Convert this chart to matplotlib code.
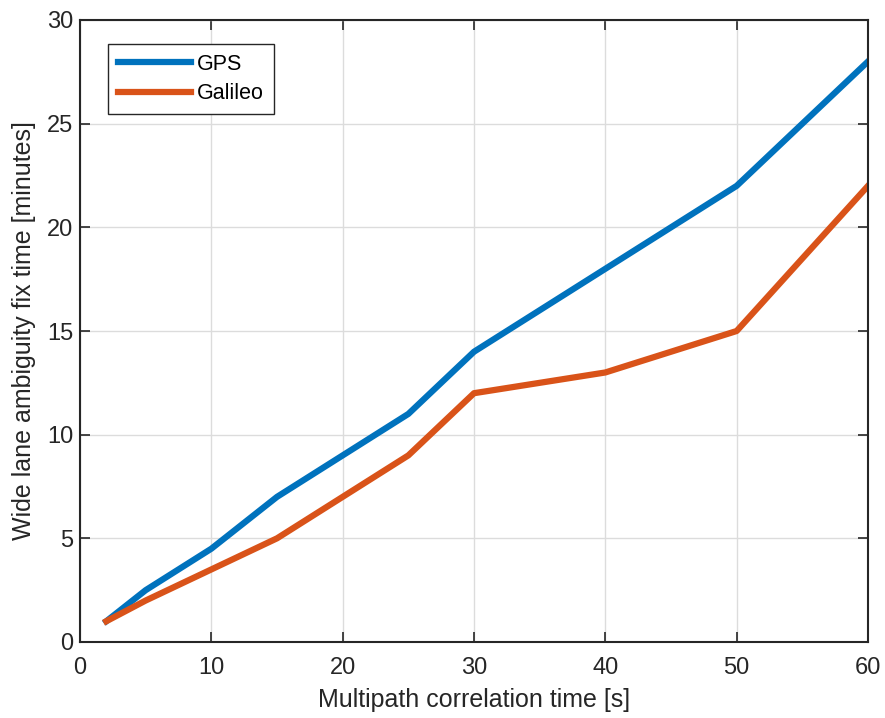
import matplotlib
matplotlib.use("Agg")
import matplotlib.pyplot as plt

plt.rcParams['font.family'] = ['Liberation Sans', 'DejaVu Sans']

corr_time = [2, 5, 10, 15, 20, 25, 30, 40, 50, 60]
gps = [1, 2.5, 4.5, 7, 9, 11, 14, 18, 22, 28]
galileo = [1, 2, 3.5, 5, 7, 9, 12, 13, 15, 22]

fig = plt.figure(figsize=(8.85, 7.18), dpi=100)
ax = fig.add_axes([80/885, 76/718, 788/885, 622/718])

ax.plot(corr_time, gps, color='#0072BD', lw=4.5, label='GPS')
ax.plot(corr_time, galileo, color='#D95319', lw=4.5, label='Galileo')

ax.set_xlim(0, 60)
ax.set_ylim(0, 30)
ax.set_xticks(range(0, 61, 10))
ax.set_yticks(range(0, 31, 5))
ax.grid(True, color='#dcdcdc', lw=1)
ax.set_axisbelow(True)
ax.tick_params(labelsize=17, direction='in', length=7, color='#262626', labelcolor='#262626',
               top=True, right=True, width=1.2)
ax.tick_params(axis='x', pad=11)
ax.tick_params(axis='y', pad=5)
for s in ax.spines.values():
    s.set_color('#262626')
    s.set_linewidth(1.5)

ax.set_xlabel('Multipath correlation time [s]', fontsize=18, color='#262626', labelpad=6)
ax.set_ylabel('Wide lane ambiguity fix time [minutes]', fontsize=18, color='#262626', labelpad=8)

leg = ax.legend(loc='upper left', bbox_to_anchor=(28/788, 1 - 24/622), fontsize=15.5,
                fancybox=False, framealpha=1, edgecolor='#262626', handlelength=3.4,
                handletextpad=0.3, borderpad=0.45, labelspacing=0.4, borderaxespad=0)
leg.get_frame().set_linewidth(1)
for t in leg.get_texts():
    t.set_color('black')

fig.savefig('out.png', dpi=100)
